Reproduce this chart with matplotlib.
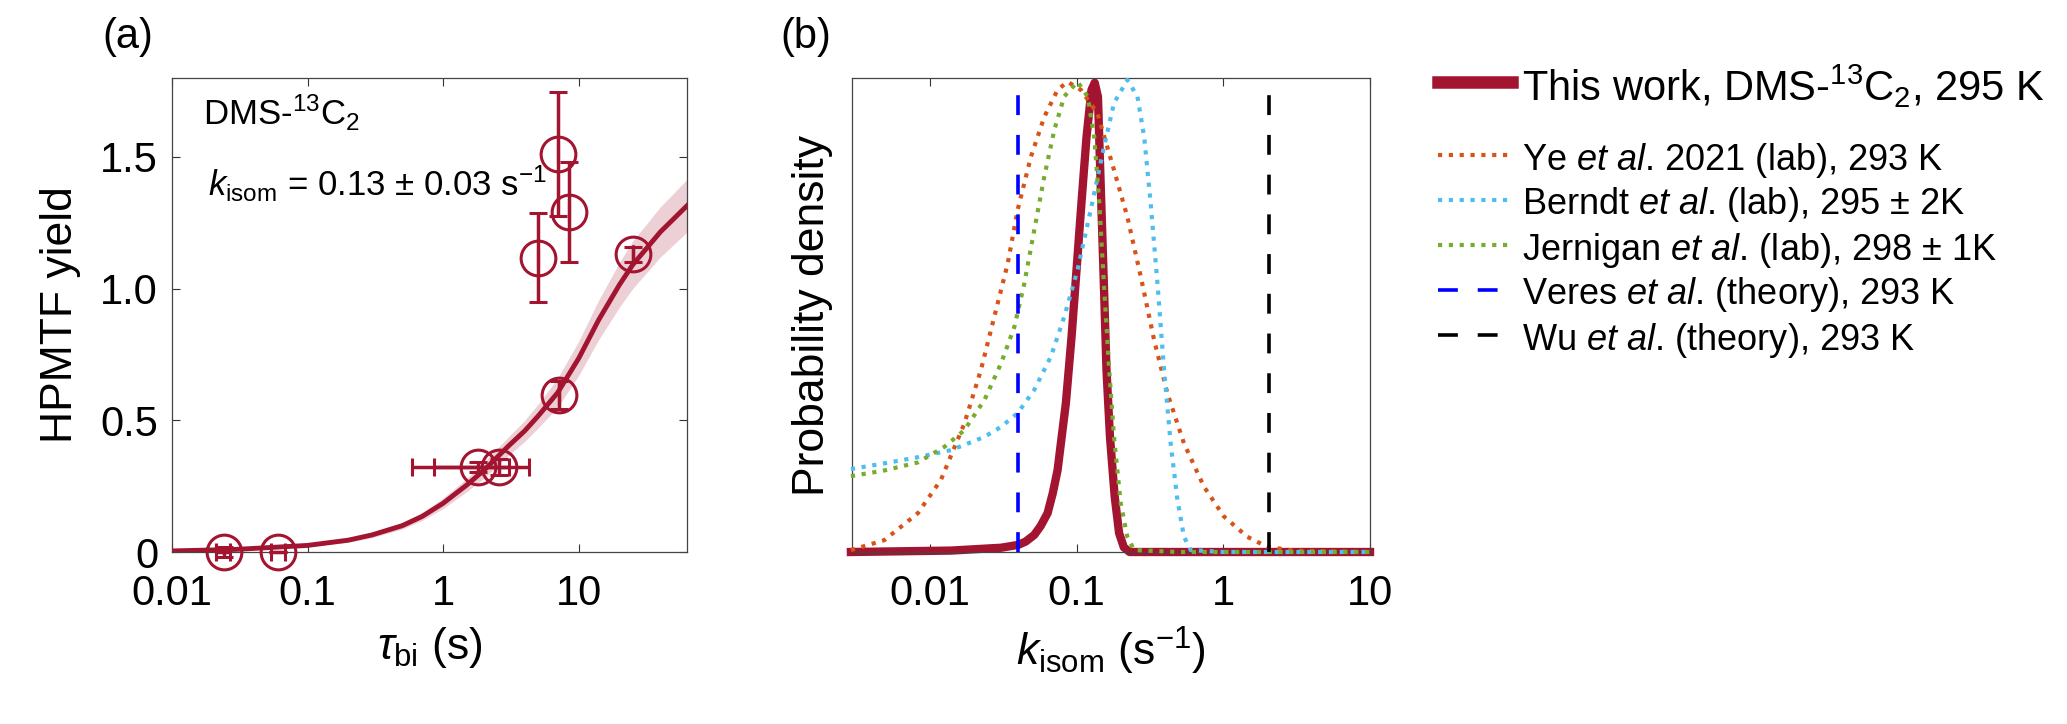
import matplotlib
matplotlib.use("Agg")
import matplotlib.pyplot as plt
from matplotlib.lines import Line2D

plt.rcParams['font.family'] = ['Liberation Sans', 'DejaVu Sans']
plt.rcParams['mathtext.fontset'] = 'custom'
plt.rcParams['mathtext.rm'] = 'Liberation Sans'
plt.rcParams['mathtext.it'] = 'Liberation Sans:italic'
plt.rcParams['mathtext.bf'] = 'Liberation Sans:bold'

# ---------------- panel (a) data ----------------
tau = [0.024, 0.061, 1.82, 2.57, 5.0, 7.1, 8.5, 7.2, 25.0]
hpmtf = [0.0, 0.0, 0.323, 0.323, 1.118, 1.51, 1.29, 0.597, 1.13]
hpmtf_err = [0.02, 0.0, 0.02, 0.03, 0.17, 0.235, 0.19, 0.053, 0.03]
tau_err = [0.003, 0.007, 1.23, 1.72, 0.0, 0.0, 0.0, 0.0, 0.0]

fit_tau = [0.01, 0.03, 0.1, 0.2, 0.3, 0.5, 0.7, 1.0, 1.5, 2.0, 3.0, 4.0,
           5.0, 7.0, 10.0, 14.0, 20.0, 25.0, 40.0, 63.0]
fit_yield = [0.004, 0.01, 0.025, 0.045, 0.065, 0.10, 0.135, 0.185, 0.255,
             0.31, 0.40, 0.46, 0.515, 0.605, 0.735, 0.88, 1.015, 1.09, 1.215, 1.315]
fit_lo = [0.002, 0.007, 0.02, 0.037, 0.055, 0.087, 0.12, 0.165, 0.23,
          0.28, 0.365, 0.42, 0.47, 0.55, 0.67, 0.805, 0.93, 1.0, 1.12, 1.215]
fit_hi = [0.006, 0.013, 0.03, 0.053, 0.075, 0.113, 0.15, 0.205, 0.28,
          0.34, 0.435, 0.50, 0.56, 0.66, 0.80, 0.955, 1.10, 1.18, 1.31, 1.415]

# ---------------- panel (b) data ----------------
k_this = [0.0029, 0.014, 0.0306, 0.040, 0.045, 0.0515, 0.057, 0.0635, 0.069,
          0.0743, 0.079, 0.0846, 0.0925, 0.100, 0.108, 0.117, 0.1265, 0.133,
          0.140, 0.145, 0.150, 0.155, 0.160, 0.169, 0.182, 0.195, 0.21, 0.23,
          1.0, 10.0]
p_this = [0.0, 0.003, 0.009, 0.015, 0.022, 0.036, 0.055, 0.082, 0.125,
          0.173, 0.24, 0.314, 0.454, 0.595, 0.736, 0.876, 0.975, 0.99,
          0.96, 0.806, 0.665, 0.525, 0.384, 0.243, 0.117, 0.04, 0.01, 0.0,
          0.0, 0.0]

k_ye = [0.0029, 0.0049, 0.0083, 0.0119, 0.0172, 0.0223, 0.0275, 0.034, 0.0397,
        0.0489, 0.0603, 0.0743, 0.0869, 0.107, 0.139, 0.180, 0.222, 0.274,
        0.338, 0.416, 0.540, 0.738, 1.01, 1.46, 1.99, 3.0, 10.0]
p_ye = [0.004, 0.025, 0.082, 0.152, 0.271, 0.384, 0.496, 0.609, 0.722,
        0.834, 0.918, 0.975, 0.992, 0.975, 0.925, 0.806, 0.707, 0.581,
        0.447, 0.335, 0.229, 0.138, 0.075, 0.032, 0.011, 0.003, 0.0]

k_berndt = [0.0029, 0.0049, 0.0083, 0.0140, 0.0236, 0.0306, 0.0397, 0.0515,
            0.0668, 0.0824, 0.1016, 0.125, 0.154, 0.180, 0.222, 0.260, 0.289,
            0.320, 0.356, 0.395, 0.438, 0.487, 0.540, 0.600, 1.0, 10.0]
p_berndt = [0.175, 0.187, 0.200, 0.215, 0.243, 0.264, 0.293, 0.342,
            0.412, 0.496, 0.595, 0.722, 0.855, 0.947, 0.996, 0.961, 0.876,
            0.736, 0.567, 0.384, 0.229, 0.110, 0.032, 0.004, 0.0, 0.0]

k_jern = [0.0029, 0.0049, 0.0083, 0.0126, 0.0172, 0.0236, 0.0306, 0.0377,
          0.0441, 0.0515, 0.0603, 0.0705, 0.0824, 0.1016, 0.119, 0.132, 0.143,
          0.154, 0.167, 0.180, 0.200, 0.222, 0.247, 0.5, 10.0]
p_jern = [0.16, 0.172, 0.189, 0.222, 0.257, 0.321, 0.398, 0.475,
          0.567, 0.679, 0.792, 0.890, 0.961, 0.992, 0.961, 0.876, 0.736,
          0.560, 0.384, 0.243, 0.103, 0.032, 0.004, 0.0, 0.0]

k_veres = 0.040
k_wu = 2.05

xticks_b = [0.01, 0.1, 1, 10]
xtick_labels_b = ['0.01', '0.1', '1', '10']
xticks_a = [0.01, 0.1, 1, 10]
xtick_labels_a = ['0.01', '0.1', '1', '10']
yticks_a = [0, 0.5, 1.0, 1.5]
ytick_labels_a = ['0', '0.5', '1.0', '1.5']

legend_labels = [
    r'This work, DMS-$^{13}$C$_2$, 295 K',
    r'Ye $\mathit{et\ al}$. 2021 (lab), 293 K',
    r'Berndt $\mathit{et\ al}$. (lab), 295 $\pm$ 2K',
    r'Jernigan $\mathit{et\ al}$. (lab), 298 $\pm$ 1K',
    r'Veres $\mathit{et\ al}$. (theory), 293 K',
    r'Wu $\mathit{et\ al}$. (theory), 293 K',
]

red = '#A2142F'
orange = '#D95319'
cyan = '#4DBEEE'
green = '#77AC30'
blue = '#0000FF'
dot = (0, (1, 1.6))
dash = (0, (5.5, 5.5))

W, H = 2067, 724
fig = plt.figure(figsize=(W / 100, H / 100), dpi=100)
ax1 = fig.add_axes([172 / W, 1 - 552 / H, 515 / W, 474 / H])
ax2 = fig.add_axes([852 / W, 1 - 552 / H, 518 / W, 474 / H])

for ax in (ax1, ax2):
    ax.set_xscale('log')
    ax.tick_params(which='both', direction='in', top=True, right=True,
                   length=6, width=0.8, labelsize=30, color='#333333')
    ax.tick_params(axis='x', pad=16)
    ax.tick_params(axis='y', pad=10)
    for s in ax.spines.values():
        s.set_color('#444444')
        s.set_linewidth(0.9)

# ---------------- panel (a) ----------------
ax1.fill_between(fit_tau, fit_lo, fit_hi, color=red, alpha=0.2, lw=0)
ax1.errorbar(tau, hpmtf, yerr=hpmtf_err, xerr=tau_err, fmt='o', ms=25,
             mfc='none', mec=red, mew=2.2, ecolor=red, elinewidth=2.5,
             capsize=6.5, capthick=2.5, clip_on=False, zorder=3)
ax1.plot(fit_tau, fit_yield, color=red, lw=3.5, zorder=4)
ax1.set_xlim(0.01, 63)
ax1.set_ylim(0, 1.8)
ax1.set_xticks(xticks_a)
ax1.set_xticklabels(xtick_labels_a)
ax1.set_yticks(yticks_a)
ax1.set_yticklabels(ytick_labels_a)
ax1.minorticks_off()
ax1.set_xlabel(r'$\tau_{\rm bi}$ (s)', fontsize=32, labelpad=8)
ax1.set_ylabel('HPMTF yield', fontsize=32, labelpad=14)
ax1.text(0.06, 0.90, r'DMS-$^{13}$C$_2$', transform=ax1.transAxes,
         fontsize=25, va='baseline')
ax1.text(0.07, 0.75, r'$k_{\rm isom}$ = 0.13 $\pm$ 0.03 s$^{-1}$',
         transform=ax1.transAxes, fontsize=25, va='baseline')

# ---------------- panel (b) ----------------
ax2.plot(k_this, p_this, color=red, lw=6, clip_on=False, zorder=2,
         solid_joinstyle='round')
ax2.plot(k_ye, p_ye, color=orange, lw=3, ls=dot, clip_on=False, zorder=3)
ax2.plot(k_berndt, p_berndt, color=cyan, lw=3, ls=dot, clip_on=False, zorder=3)
ax2.plot(k_jern, p_jern, color=green, lw=3, ls=dot, clip_on=False, zorder=3)
ax2.axvline(k_veres, ymin=0, ymax=0.98, color=blue, lw=2.6, ls=dash, zorder=4)
ax2.axvline(k_wu, ymin=0, ymax=0.98, color='black', lw=2.6, ls=dash, zorder=4)
ax2.set_xlim(0.00295, 10)
ax2.set_ylim(0, 1.0)
ax2.set_xticks(xticks_b)
ax2.set_xticklabels(xtick_labels_b)
ax2.set_yticks([])
ax2.minorticks_off()
ax2.tick_params(axis='y', which='both', left=False, right=False)
ax2.set_xlabel(r'$k_{\rm isom}$ (s$^{-1}$)', fontsize=32, labelpad=8)
ax2.set_ylabel('Probability density', fontsize=32, labelpad=14)

fig.text(128 / W, 1 - 48 / H, '(a)', fontsize=30, ha='center', va='baseline')
fig.text(806 / W, 1 - 48 / H, '(b)', fontsize=30, ha='center', va='baseline')

# ---------------- legend ----------------
styles = [
    dict(color=red, lw=9),
    dict(color=orange, lw=3, ls=dot),
    dict(color=cyan, lw=3, ls=dot),
    dict(color=green, lw=3, ls=dot),
    dict(color=blue, lw=2.6, ls=dash),
    dict(color='black', lw=2.6, ls=dash),
]
sizes = [30, 26, 26, 26, 26, 26]
rows = [82, 155, 200, 245, 290, 335]
for style, label, fs, yr in zip(styles, legend_labels, sizes, rows):
    fig.add_artist(Line2D([1438 / W, 1512 / W], [1 - yr / H, 1 - yr / H],
                          transform=fig.transFigure, **style))
    fig.text(1522 / W, 1 - yr / H, label, fontsize=fs, va='center_baseline')

fig.savefig('out.png', dpi=100)
